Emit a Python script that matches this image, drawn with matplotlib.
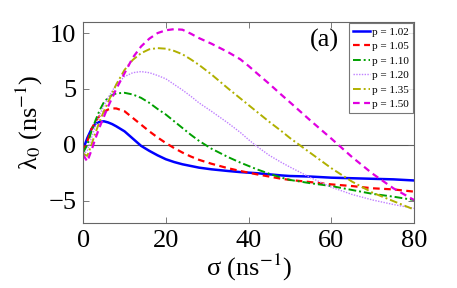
import matplotlib
matplotlib.use("Agg")
import matplotlib.pyplot as plt

plt.rcParams['font.family'] = ['Liberation Serif', 'DejaVu Serif']
plt.rcParams['mathtext.fontset'] = 'stix'

sigma = [0, 1, 2, 3, 4, 5, 6, 7, 8, 10, 12, 14, 16, 18, 20, 22, 24, 26, 28, 31, 35,
         38, 40, 42, 45, 48, 50, 55, 60, 65, 70, 75, 80]

p102 = [-0.4, 0.6, 1.4, 1.9, 2.05, 2.1, 2.0, 1.85, 1.65, 1.2, 0.55, -0.1, -0.55, -0.95, -1.3,
        -1.55, -1.75, -1.9, -2.05, -2.2, -2.35, -2.45, -2.5, -2.55, -2.65, -2.75, -2.8,
        -2.85, -2.95, -3.0, -3.05, -3.1, -3.2]
p105 = [-0.6, 0.3, 1.4, 2.1, 2.6, 2.95, 3.15, 3.25, 3.25, 3.0, 2.4, 1.8, 1.2, 0.65, 0.15,
        -0.3, -0.7, -1.05, -1.35, -1.7, -2.1, -2.35, -2.5, -2.65, -2.85, -3.05, -3.15,
        -3.35, -3.55, -3.7, -3.9, -4.0, -4.2]
p110 = [-0.7, 0.0, 1.2, 2.2, 3.1, 3.8, 4.2, 4.45, 4.6, 4.65, 4.5, 4.2, 3.75, 3.2, 2.7,
        2.1, 1.5, 0.9, 0.35, -0.35, -1.1, -1.6, -1.9, -2.2, -2.6, -2.95, -3.15,
        -3.45, -3.7, -4.05, -4.4, -4.65, -4.95]
p120 = [-0.9, -0.5, 0.6, 1.7, 2.7, 3.5, 4.2, 4.8, 5.4, 6.1, 6.45, 6.55, 6.45, 6.2, 5.9,
        5.4, 4.9, 4.35, 3.75, 3.0, 1.95, 1.1, 0.45, -0.15, -0.95, -1.6, -2.0,
        -2.95, -3.8, -4.45, -4.95, -5.35, -5.7]
p135 = [-0.8, -1.0, 0.0, 1.1, 2.1, 3.0, 3.8, 4.6, 5.4, 6.7, 7.6, 8.2, 8.55, 8.65, 8.6,
        8.4, 8.1, 7.65, 7.15, 6.3, 5.05, 4.15, 3.55, 2.95, 2.05, 1.2, 0.6,
        -0.75, -2.1, -3.3, -4.3, -5.05, -5.8]
p150 = [-0.9, -1.5, -0.5, 0.6, 1.6, 2.5, 3.4, 4.2, 5.0, 6.4, 7.8, 8.8, 9.5, 10.0, 10.25,
        10.35, 10.3, 9.95, 9.55, 9.05, 8.3, 7.65, 7.05, 6.4, 5.45, 4.45, 3.8,
        2.15, 0.55, -1.1, -2.6, -3.9, -4.95]

labels = ['p = 1.02', 'p = 1.05', 'p = 1.10', 'p = 1.20', 'p = 1.35', 'p = 1.50']
series = [p102, p105, p110, p120, p135, p150]
colors = ['#0000ff', '#ff0000', '#00a000', '#c080ff', '#b0b000', '#e000e0']
styles = ['-', (0, (3, 2)), (0, (4, 1.5, 1, 1.5)), (0, (1, 1)), (0, (4, 1.5, 1, 1.5)), (0, (3, 2))]
widths = [1.8, 1.6, 1.4, 1.0, 1.4, 1.6]

fig = plt.figure(figsize=(4.57, 2.88), dpi=100)
ax = fig.add_axes([0.182, 0.226, 0.724, 0.698])

ax.axhline(0, color='#555555', lw=0.8, zorder=1)
for y, lab, c, ls, lw in zip(series, labels, colors, styles, widths):
    ax.plot(sigma, y, color=c, ls=ls, lw=lw, label=lab, zorder=2)

ax.set_xlim(0, 80)
ax.set_ylim(-7, 11)
ax.set_xticks([0, 20, 40, 60, 80])
ax.set_yticks([-5, 0, 5, 10])
ax.set_yticklabels(['\u22125', '0', '5', '10'])
ax.tick_params(direction='in', length=4, width=0.6, color='#666666',
               top=True, right=True, labelsize=19, pad=5)
for s in ax.spines.values():
    s.set_color('#666666')
    s.set_linewidth(0.8)

ax.set_xlabel('\u03c3 (ns$^{-1}$)', fontsize=19, labelpad=0)
ax.set_ylabel('\u03bb$_0$ (ns$^{-1}$)', fontsize=19, labelpad=2)

ax.text(0.73, 0.91, '(a)', transform=ax.transAxes, fontsize=19,
        ha='center', va='center')

leg = ax.legend(loc='upper right', fontsize=8, frameon=True, fancybox=False,
                handlelength=1.6, handletextpad=0.15, borderpad=0.35,
                labelspacing=0.42, borderaxespad=0.12)
leg.get_frame().set_edgecolor('#555555')
leg.get_frame().set_linewidth(0.8)

fig.savefig('out.png', dpi=100)
